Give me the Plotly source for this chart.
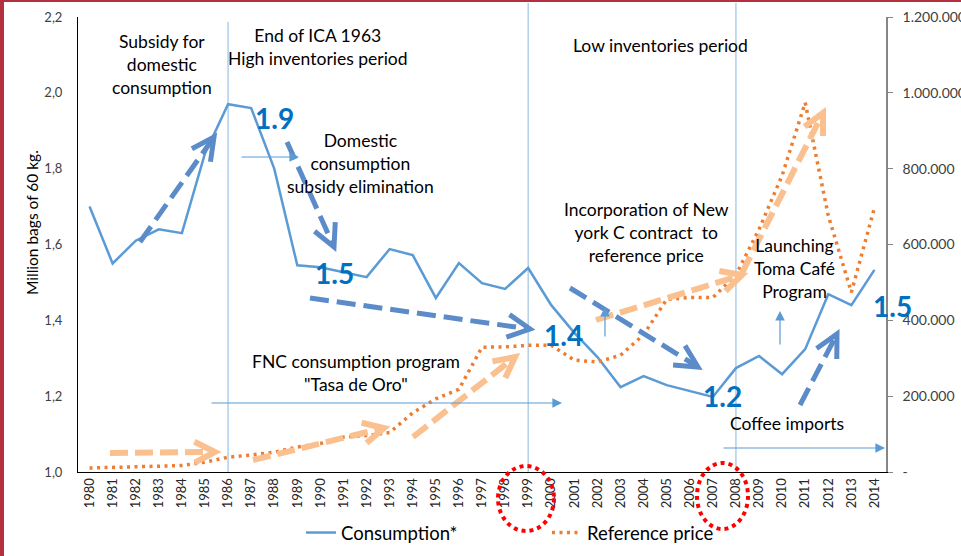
import math
import plotly.graph_objects as go

# ---------------- data ----------------
years = list(range(1980, 2015))
consumption = [1.70, 1.55, 1.61, 1.64, 1.63, 1.84, 1.97, 1.96, 1.80, 1.545,
               1.54, 1.527, 1.514, 1.588, 1.572, 1.459, 1.551, 1.498, 1.483, 1.538,
               1.44, 1.367, 1.303, 1.224, 1.253, 1.229, 1.214, 1.198, 1.274, 1.306,
               1.258, 1.324, 1.469, 1.44, 1.533]
reference_price = [10500, 12000, 13000, 14500, 17000, 26000, 39000, 45000, 52000, 66000,
                   75000, 92000, 96000, 104000, 156000, 193000, 218000, 329000, 330000, 334000,
                   334000, 295000, 290000, 308000, 362000, 455000, 460000, 460000, 520000, 640000,
                   782000, 974000, 676000, 474000, 697000]
left_ticks = [1.0, 1.2, 1.4, 1.6, 1.8, 2.0, 2.2]
right_ticks = [0, 200000, 400000, 600000, 800000, 1000000, 1200000]
right_ticktext = ["-", "200.000", "400.000", "600.000", "800.000", "1.000.000", "1.200.000"]
marker_years = [1986, 1999, 2008]

# ---------------- layout geometry helpers (pixel -> paper) ----------------
W, H = 961, 556
PL, PT, PW, PH = 78, 17, 808, 455
FONT = "Lato"


def X(px):
    return (px - PL) / PW


def Y(py):
    return (PT + PH - py) / PH


def year_paper(yr):
    return (yr - 1979.5) / 35.0


fig = go.Figure()
fig.add_trace(go.Scatter(x=years, y=consumption, name="Consumption*", mode="lines",
                         line=dict(color="#5B9BD5", width=2.5), yaxis="y"))
fig.add_trace(go.Scatter(x=years, y=reference_price, name="Reference price", mode="lines",
                         line=dict(color="#ED7D31", width=3.5, dash="3px,4.5px"), yaxis="y2"))

shapes = []
annotations = []

# border of the slide
shapes.append(dict(type="rect", xref="paper", yref="paper", x0=X(0), x1=X(4), y0=Y(H), y1=Y(0),
                   fillcolor="#B3303F", line=dict(width=0), layer="above"))
shapes.append(dict(type="rect", xref="paper", yref="paper", x0=X(0), x1=X(W), y0=Y(2), y1=Y(0),
                   fillcolor="#B3303F", line=dict(width=0), layer="above"))

# vertical period separators
tops = {1986: 22, 1999: 3, 2008: 3}
for yr in marker_years:
    shapes.append(dict(type="line", xref="paper", yref="paper", x0=year_paper(yr), x1=year_paper(yr),
                       y0=0, y1=Y(tops[yr]), line=dict(color="#9DC3E6", width=1.2), layer="below"))


def dashed_arrow(p0, p1, color, width, dash, L=25, theta=27):
    (x0, y0), (x1, y1) = p0, p1
    dx, dy = x1 - x0, y1 - y0
    n = math.hypot(dx, dy)
    ux, uy = dx / n, dy / n
    shapes.append(dict(type="line", xref="paper", yref="paper", x0=X(x0), y0=Y(y0),
                       x1=X(x1 - ux * width * 0.6), y1=Y(y1 - uy * width * 0.6),
                       line=dict(color=color, width=width, dash=dash), layer="above"))
    pts = []
    for s in (1, -1):
        a = math.radians(theta) * s
        bx = -ux * math.cos(a) + uy * math.sin(a)
        by = -uy * math.cos(a) - ux * math.sin(a)
        pts.append((x1 + L * bx, y1 + L * by))
    path = "M {:.5f},{:.5f} L {:.5f},{:.5f} L {:.5f},{:.5f}".format(
        X(pts[0][0]), Y(pts[0][1]), X(x1), Y(y1), X(pts[1][0]), Y(pts[1][1]))
    shapes.append(dict(type="path", xref="paper", yref="paper", path=path,
                       line=dict(color=color, width=width), layer="above"))


BLUE_D = "#5B8BC9"
ORANGE_D = "#FAC090"
dashed_arrow((140, 242), (214, 137), BLUE_D, 5, "19px,8px")
dashed_arrow((287, 142), (334, 247), BLUE_D, 5, "19px,8px")
dashed_arrow((310, 298), (530, 329), BLUE_D, 5, "19px,8px")
dashed_arrow((570, 288), (698, 367), BLUE_D, 5, "19px,8px")
dashed_arrow((800, 405), (837, 334), BLUE_D, 5, "19px,8px")
dashed_arrow((110, 453), (215, 452), ORANGE_D, 6, "18px,7px", L=23)
dashed_arrow((253, 460), (384, 428), ORANGE_D, 6, "18px,7px", L=23)
dashed_arrow((413, 437), (515, 357), ORANGE_D, 6, "18px,7px", L=23)
dashed_arrow((596, 320), (742, 275), ORANGE_D, 6, "18px,7px", L=23)
dashed_arrow((742, 273), (823, 113), ORANGE_D, 6, "18px,7px", L=23)

# red dotted circles around 1999 and 2008
for (cx, cy, rx, ry) in [(526, 498.5, 28, 32.5), (722.5, 496, 25.5, 33)]:
    shapes.append(dict(type="circle", xref="paper", yref="paper", x0=X(cx - rx), x1=X(cx + rx),
                       y0=Y(cy + ry), y1=Y(cy - ry), line=dict(color="#FF0000", width=4, dash="4px,4px"),
                       layer="above"))


# thin blue arrows
def thin_arrow(tail, tip):
    annotations.append(dict(xref="paper", yref="paper", x=X(tip[0]), y=Y(tip[1]), axref="pixel", ayref="pixel",
                            ax=tail[0] - tip[0], ay=tail[1] - tip[1], text="", showarrow=True,
                            arrowhead=2, arrowsize=1.6, arrowwidth=1.2, arrowcolor="#5B9BD5"))


thin_arrow((240, 157), (299, 157))
thin_arrow((210, 403), (562, 403))
thin_arrow((722, 448), (885, 448))
thin_arrow((605, 338), (605, 307))
thin_arrow((780, 346), (780, 311))

# text annotations
texts = [
    ("Subsidy for<br>domestic<br>consumption", 162, 65),
    ("End of ICA 1963<br>High inventories period", 318, 47),
    ("Domestic<br>consumption<br>subsidy elimination", 360, 164),
    ("Low inventories period", 660, 45),
    ("Incorporation of New<br>york C contract  to<br>reference price", 646, 232),
    ("Launching<br>Toma Café<br>Program", 794, 268),
    ("FNC consumption program<br>\"Tasa de Oro\"", 356, 373),
    ("Coffee imports", 787, 423),
]
for t, px, py in texts:
    annotations.append(dict(xref="paper", yref="paper", x=X(px), y=Y(py), text=t, showarrow=False,
                            xanchor="center", yanchor="middle",
                            font=dict(family=FONT, size=17.5, color="#000000")))

nums = [("1.9", 274, 118), ("1.5", 334, 273), ("1.4", 563, 335), ("1.2", 722, 396), ("1.5", 892, 306)]
for t, px, py in nums:
    annotations.append(dict(xref="paper", yref="paper", x=X(px), y=Y(py), text="<b>%s</b>" % t,
                            showarrow=False, xanchor="center", yanchor="middle",
                            font=dict(family=FONT, size=28, color="#0070C0")))

# left axis title (placed as in the reference, slightly above the axis centre)
annotations.append(dict(xref="paper", yref="paper", x=X(32), y=Y(223), text="Million bags of 60 kg.",
                        textangle=-90, showarrow=False, xanchor="center", yanchor="middle",
                        font=dict(family=FONT, size=15.5, color="#000000")))

fig.update_layout(
    width=W, height=H,
    margin=dict(l=PL, r=W - PL - PW, t=PT, b=H - PT - PH, autoexpand=False),
    paper_bgcolor="white", plot_bgcolor="white",
    separators=",.",
    font=dict(family=FONT, color="#404040"),
    showlegend=True,
    legend=dict(orientation="h", x=X(301), y=Y(533), xanchor="left", yanchor="middle",
                font=dict(family=FONT, size=18.5, color="#000000"), entrywidth=201, entrywidthmode="pixels",
                bgcolor="rgba(0,0,0,0)"),
    xaxis=dict(range=[1979.5, 2014.5], tickmode="array", tickvals=years, ticktext=[str(y) for y in years],
               tickangle=-90, showgrid=False, zeroline=False, showline=True, linecolor="#000000", linewidth=1,
               ticks="", tickfont=dict(family=FONT, size=13, color="#262626")),
    yaxis=dict(range=[1.0, 2.2], tickmode="array", tickvals=left_ticks, tickformat=".1f",
               showgrid=False, zeroline=False, showline=True, linecolor="#000000", linewidth=1,
               ticks="", ticklabelstandoff=12, tickfont=dict(family=FONT, size=13, color="#404040")),
    yaxis2=dict(range=[0, 1200000], overlaying="y", side="right", tickmode="array", tickvals=right_ticks,
                ticktext=right_ticktext, showgrid=False, zeroline=False, showline=True, linecolor="#868686",
                linewidth=1.5, ticks="outside", ticklen=5, tickcolor="#868686", ticklabelstandoff=7,
                tickfont=dict(family=FONT, size=14, color="#404040")),
    shapes=shapes,
    annotations=annotations,
)

fig.write_html("out.html", config={"displayModeBar": False},
               post_script="document.body.style.margin='0';document.body.style.overflow='hidden';")
